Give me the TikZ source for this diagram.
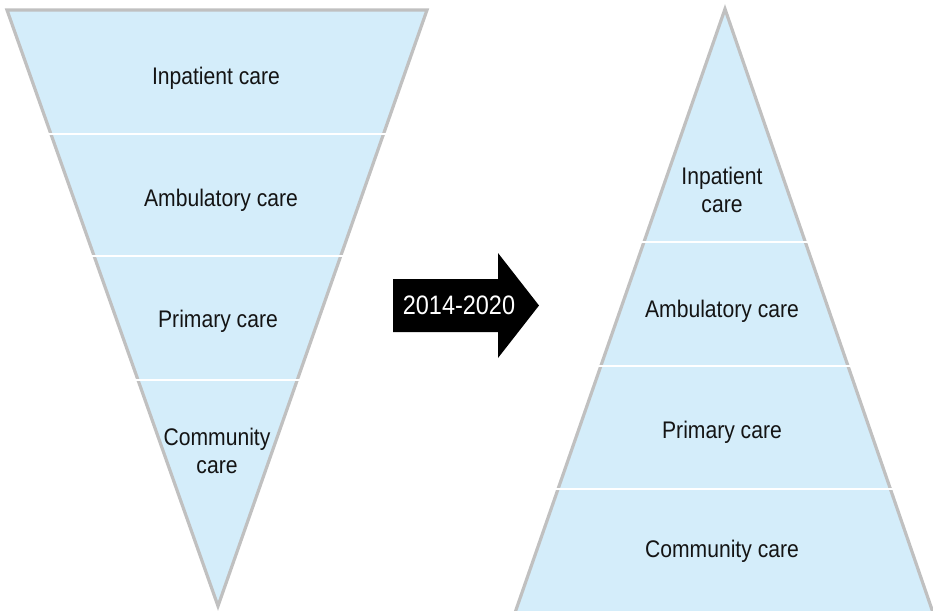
\documentclass[tikz,border=0pt]{standalone}
\usepackage{fontspec}
\setmainfont[FakeStretch=0.88]{Liberation Sans}
\usetikzlibrary{calc}
\definecolor{bandblue}{RGB}{212,237,250}
\definecolor{edgegray}{RGB}{192,192,192}

\begin{document}
\begin{tikzpicture}[x=0.75pt, y=-0.75pt,
		tier/.style={fill=bandblue, draw=edgegray, line width=2.4pt, line join=miter},
		divider/.style={draw=white, line width=2pt, shorten <=-4pt, shorten >=-4pt},
		tiertext/.style={font=\fontsize{18}{20.5}\selectfont, align=center, text=black!92},
		yeartext/.style={font=\fontsize{20}{22}\selectfont, text=white}
	]
	\useasboundingbox (0,0) rectangle (933,611);
	\begin{scope}
		\clip (0,0) rectangle (933,611);

		\coordinate (ltl) at (7,10);
		\coordinate (ltr) at (427,10);
		\coordinate (lap) at (218,606);
		\draw[tier] (ltl) -- (ltr) -- (lap) -- cycle;

		\draw[divider] ($(ltl)!0.208!(lap)$) -- ($(ltr)!0.208!(lap)$);
		\draw[divider] ($(ltl)!0.413!(lap)$) -- ($(ltr)!0.413!(lap)$);
		\draw[divider] ($(ltl)!0.621!(lap)$) -- ($(ltr)!0.621!(lap)$);

		\coordinate (rap) at (725,9);
		\coordinate (rbl) at (509,630);
		\coordinate (rbr) at (939,630);
		\draw[tier] (rap) -- (rbr) -- (rbl) -- cycle;

		\draw[divider] ($(rap)!0.375!(rbl)$) -- ($(rap)!0.375!(rbr)$);
		\draw[divider] ($(rap)!0.575!(rbl)$) -- ($(rap)!0.575!(rbr)$);
		\draw[divider] ($(rap)!0.773!(rbl)$) -- ($(rap)!0.773!(rbr)$);
	\end{scope}

	\fill[black] (393,279) -- (498,279) -- (498,253) -- (539,305.5) -- (498,358) -- (498,332) -- (393,332) -- cycle;
	\node[yeartext] (yr) at (459,305) {2014-2020};

	\node[tiertext] (l1) at (216,78) {Inpatient care};
	\node[tiertext] (l2) at (221,200) {Ambulatory care};
	\node[tiertext] (l3) at (218,321) {Primary care};
	\node[tiertext] (l4) at (217,451) {Community\\care};

	\node[tiertext] (r1) at (722,190) {Inpatient\\care};
	\node[tiertext] (r2) at (722,311) {Ambulatory care};
	\node[tiertext] (r3) at (722,432) {Primary care};
	\node[tiertext] (r4) at (722,551) {Community care};
\end{tikzpicture}
\end{document}
